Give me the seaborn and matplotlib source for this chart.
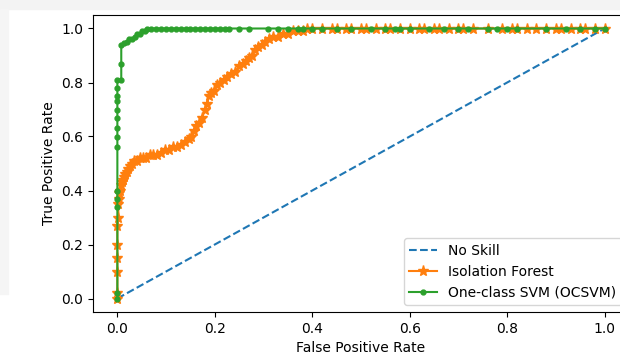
import matplotlib
matplotlib.use("Agg")
import matplotlib.pyplot as plt
from matplotlib.patches import Rectangle
import seaborn as sns

# ROC points
ns_fpr = [0.0, 1.0]
ns_tpr = [0.0, 1.0]

# Isolation Forest: rising part, then the top plateau
if_fpr = [0, 0, 0, 0, 0, 0, 0.002, 0.002, 0.004, 0.004,
          0.006, 0.008, 0.01, 0.012, 0.014, 0.016, 0.02, 0.022, 0.026, 0.03,
          0.034, 0.04, 0.046, 0.052, 0.058, 0.066, 0.074, 0.082, 0.09, 0.098,
          0.106, 0.114, 0.122, 0.13, 0.138, 0.146, 0.152, 0.158, 0.162, 0.168,
          0.174, 0.18, 0.184, 0.188, 0.192, 0.198, 0.204, 0.21, 0.218, 0.226,
          0.234, 0.242, 0.25, 0.258, 0.264, 0.27, 0.276, 0.282, 0.288, 0.296,
          0.304, 0.312, 0.32, 0.33, 0.34, 0.35, 0.36, 0.37, 0.38, 0.39,
          0.40,
          0.42, 0.44, 0.45, 0.47, 0.48, 0.5, 0.51, 0.53, 0.55, 0.56,
          0.58, 0.6, 0.62, 0.63, 0.65, 0.66, 0.68, 0.7, 0.71, 0.73,
          0.76, 0.79, 0.81, 0.82, 0.84, 0.86, 0.88, 0.9, 0.91, 0.93,
          0.95, 0.96, 0.98, 1.0]
if_tpr = [0, 0.02, 0.1, 0.15, 0.2, 0.27, 0.3, 0.35, 0.37, 0.39,
          0.40, 0.42, 0.43, 0.44, 0.45, 0.46, 0.47, 0.48, 0.49, 0.5,
          0.51, 0.51, 0.52, 0.52, 0.52, 0.53, 0.53, 0.53, 0.54, 0.55,
          0.55, 0.56, 0.56, 0.57, 0.58, 0.59, 0.6, 0.62, 0.64, 0.65,
          0.67, 0.7, 0.72, 0.75, 0.76, 0.77, 0.79, 0.8, 0.81, 0.82,
          0.83, 0.84, 0.86, 0.87, 0.88, 0.89, 0.9, 0.92, 0.93, 0.94,
          0.95, 0.96, 0.97, 0.97, 0.98, 0.98, 0.99, 0.99, 0.99, 1.0,
          1.0,
          1.0, 1.0, 1.0, 1.0, 1.0, 1.0, 1.0, 1.0, 1.0, 1.0,
          1.0, 1.0, 1.0, 1.0, 1.0, 1.0, 1.0, 1.0, 1.0, 1.0,
          1.0, 1.0, 1.0, 1.0, 1.0, 1.0, 1.0, 1.0, 1.0, 1.0,
          1.0, 1.0, 1.0, 1.0]

# One-class SVM
svm_fpr = [0, 0, 0, 0, 0, 0, 0, 0, 0, 0,
           0, 0, 0, 0, 0.008, 0.008, 0.008, 0.014, 0.02, 0.024,
           0.03, 0.036, 0.04, 0.046, 0.05, 0.056, 0.06,
           0.07, 0.08, 0.09, 0.1, 0.11, 0.12, 0.13, 0.14, 0.15, 0.16,
           0.17, 0.18, 0.19, 0.2, 0.21, 0.22, 0.23, 0.25, 0.27, 0.31,
           0.33, 0.35, 0.37, 0.38, 0.4, 0.42, 0.45, 0.48, 0.52, 0.55,
           0.57, 0.58, 0.6, 0.64, 0.67, 0.7, 0.72, 0.76, 0.78, 0.8,
           0.82, 0.88, 0.92, 0.95, 0.98, 1.0]
svm_tpr = [0, 0.02, 0.34, 0.37, 0.4, 0.56, 0.6, 0.63, 0.67, 0.7,
           0.73, 0.75, 0.78, 0.81, 0.81, 0.87, 0.94, 0.945, 0.95, 0.96,
           0.96, 0.97, 0.98, 0.98, 0.99, 0.99, 1.0,
           1.0, 1.0, 1.0, 1.0, 1.0, 1.0, 1.0, 1.0, 1.0, 1.0,
           1.0, 1.0, 1.0, 1.0, 1.0, 1.0, 1.0, 1.0, 1.0, 1.0,
           1.0, 1.0, 1.0, 1.0, 1.0, 1.0, 1.0, 1.0, 1.0, 1.0,
           1.0, 1.0, 1.0, 1.0, 1.0, 1.0, 1.0, 1.0, 1.0, 1.0,
           1.0, 1.0, 1.0, 1.0, 1.0, 1.0]

fig = plt.figure(figsize=(6.2, 3.54), dpi=100)

# light grey strips of the screenshot around the chart
fig.patches.append(Rectangle((0, 1 - 9 / 354), 1, 9 / 354, transform=fig.transFigure,
                             color="#f3f3f3", zorder=0))
fig.patches.append(Rectangle((0, 60 / 354), 8 / 620, 285 / 354, transform=fig.transFigure,
                             color="#f5f5f5", zorder=0))

# axes runs a little past the right edge, as in the cropped screenshot
ax = fig.add_axes([93 / 620, 42 / 354, 536 / 620, 297 / 354])

sns.lineplot(x=ns_fpr, y=ns_tpr, ax=ax, linestyle="--", label="No Skill",
             color="C0", sort=False, estimator=None)
sns.lineplot(x=if_fpr, y=if_tpr, ax=ax, marker="*", markersize=8,
             mec="C1", mew=1, color="C1", label="Isolation Forest",
             sort=False, estimator=None)
sns.lineplot(x=svm_fpr, y=svm_tpr, ax=ax, marker=".", markersize=7,
             mec="C2", mew=1, color="C2", label="One-class SVM (OCSVM)",
             sort=False, estimator=None)

ax.set_xlim(-0.05, 1.05)
ax.set_ylim(-0.05, 1.05)
ax.set_xlabel("False Positive Rate")
ax.set_ylabel("True Positive Rate")
ax.legend(loc="lower right")

fig.savefig("out.png", dpi=100)
